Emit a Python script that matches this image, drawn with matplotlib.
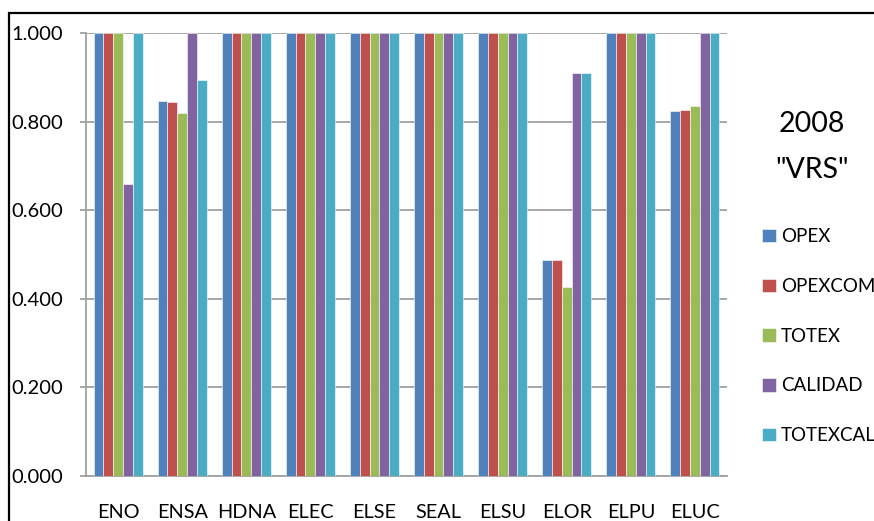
import matplotlib.pyplot as plt
import numpy as np
from matplotlib.patches import Rectangle

plt.rcParams['font.family'] = ['Lato', 'DejaVu Sans']

companies = ["ENO", "ENSA", "HDNA", "ELEC", "ELSE", "SEAL", "ELSU", "ELOR", "ELPU", "ELUC"]
opex      = [1.000, 0.847, 1.000, 1.000, 1.000, 1.000, 1.000, 0.488, 1.000, 0.824]
opexcom   = [1.000, 0.845, 1.000, 1.000, 1.000, 1.000, 1.000, 0.488, 1.000, 0.826]
totex     = [1.000, 0.819, 1.000, 1.000, 1.000, 1.000, 1.000, 0.427, 1.000, 0.836]
calidad   = [0.659, 1.000, 1.000, 1.000, 1.000, 1.000, 1.000, 0.910, 1.000, 1.000]
totexcal  = [1.000, 0.894, 1.000, 1.000, 1.000, 1.000, 1.000, 0.910, 1.000, 1.000]
series_names = ["OPEX", "OPEXCOM", "TOTEX", "CALIDAD", "TOTEXCAL"]
yticks = [0.0, 0.2, 0.4, 0.6, 0.8, 1.0]

series = [opex, opexcom, totex, calidad, totexcal]
colors = ["#4F81BD", "#C0504D", "#9BBB59", "#8064A2", "#4BACC6"]

W, H = 874, 521
fig = plt.figure(figsize=(W / 100, H / 100), dpi=100)
ax = fig.add_axes([86 / W, 45 / H, (727 - 86) / W, (476 - 33) / H])

x = np.arange(len(companies))
bw = 0.153
handles = []
for i, (vals, name, c) in enumerate(zip(series, series_names, colors)):
    b = ax.bar(x + (i - 2) * bw, vals, width=bw, color=c, label=name,
               edgecolor="white", linewidth=0.4, zorder=3)
    handles.append(b)

ax.set_xlim(-0.5, len(companies) - 0.5)
ax.set_ylim(0, 1.0)
ax.set_yticks(yticks)
ax.set_yticklabels([f"{v:.3f}" for v in yticks], fontsize=14.5)
ax.set_xticks(x)
ax.set_xticklabels(companies, fontsize=14.3)
ax.grid(axis="y", color="#A0A0A0", linewidth=1.3, zorder=0)
ax.set_axisbelow(True)
for s in ["top", "right"]:
    ax.spines[s].set_visible(False)
for s in ["left", "bottom"]:
    ax.spines[s].set_color("#A0A0A0")
    ax.spines[s].set_linewidth(1.3)
ax.tick_params(axis="y", length=4, color="#A0A0A0", width=1.3, pad=12.5)
ax.tick_params(axis="x", length=0, pad=20)

# chart title beside the plot
fig.text(812 / W, 1 - 124 / H, "2008", fontsize=20.5, ha="center", va="center")
fig.text(812 / W, 1 - 170 / H, '"VRS"', fontsize=20.5, ha="center", va="center")

fig.legend(handles=handles, labels=series_names, loc="upper left",
           bbox_to_anchor=(762 / W, 1 - 228 / H), frameon=False,
           fontsize=13.5, handlelength=0.72, handleheight=0.72, handletextpad=0.28,
           labelspacing=1.75, borderaxespad=0, borderpad=0)

# outer chart border (cut off at the right and bottom edges)
fig.patches.append(Rectangle((9 / W, -0.1), 1.2, 1 - 13 / H + 0.1,
                             transform=fig.transFigure, fill=False,
                             edgecolor="black", linewidth=1.6))

fig.savefig("out.png", dpi=100)
